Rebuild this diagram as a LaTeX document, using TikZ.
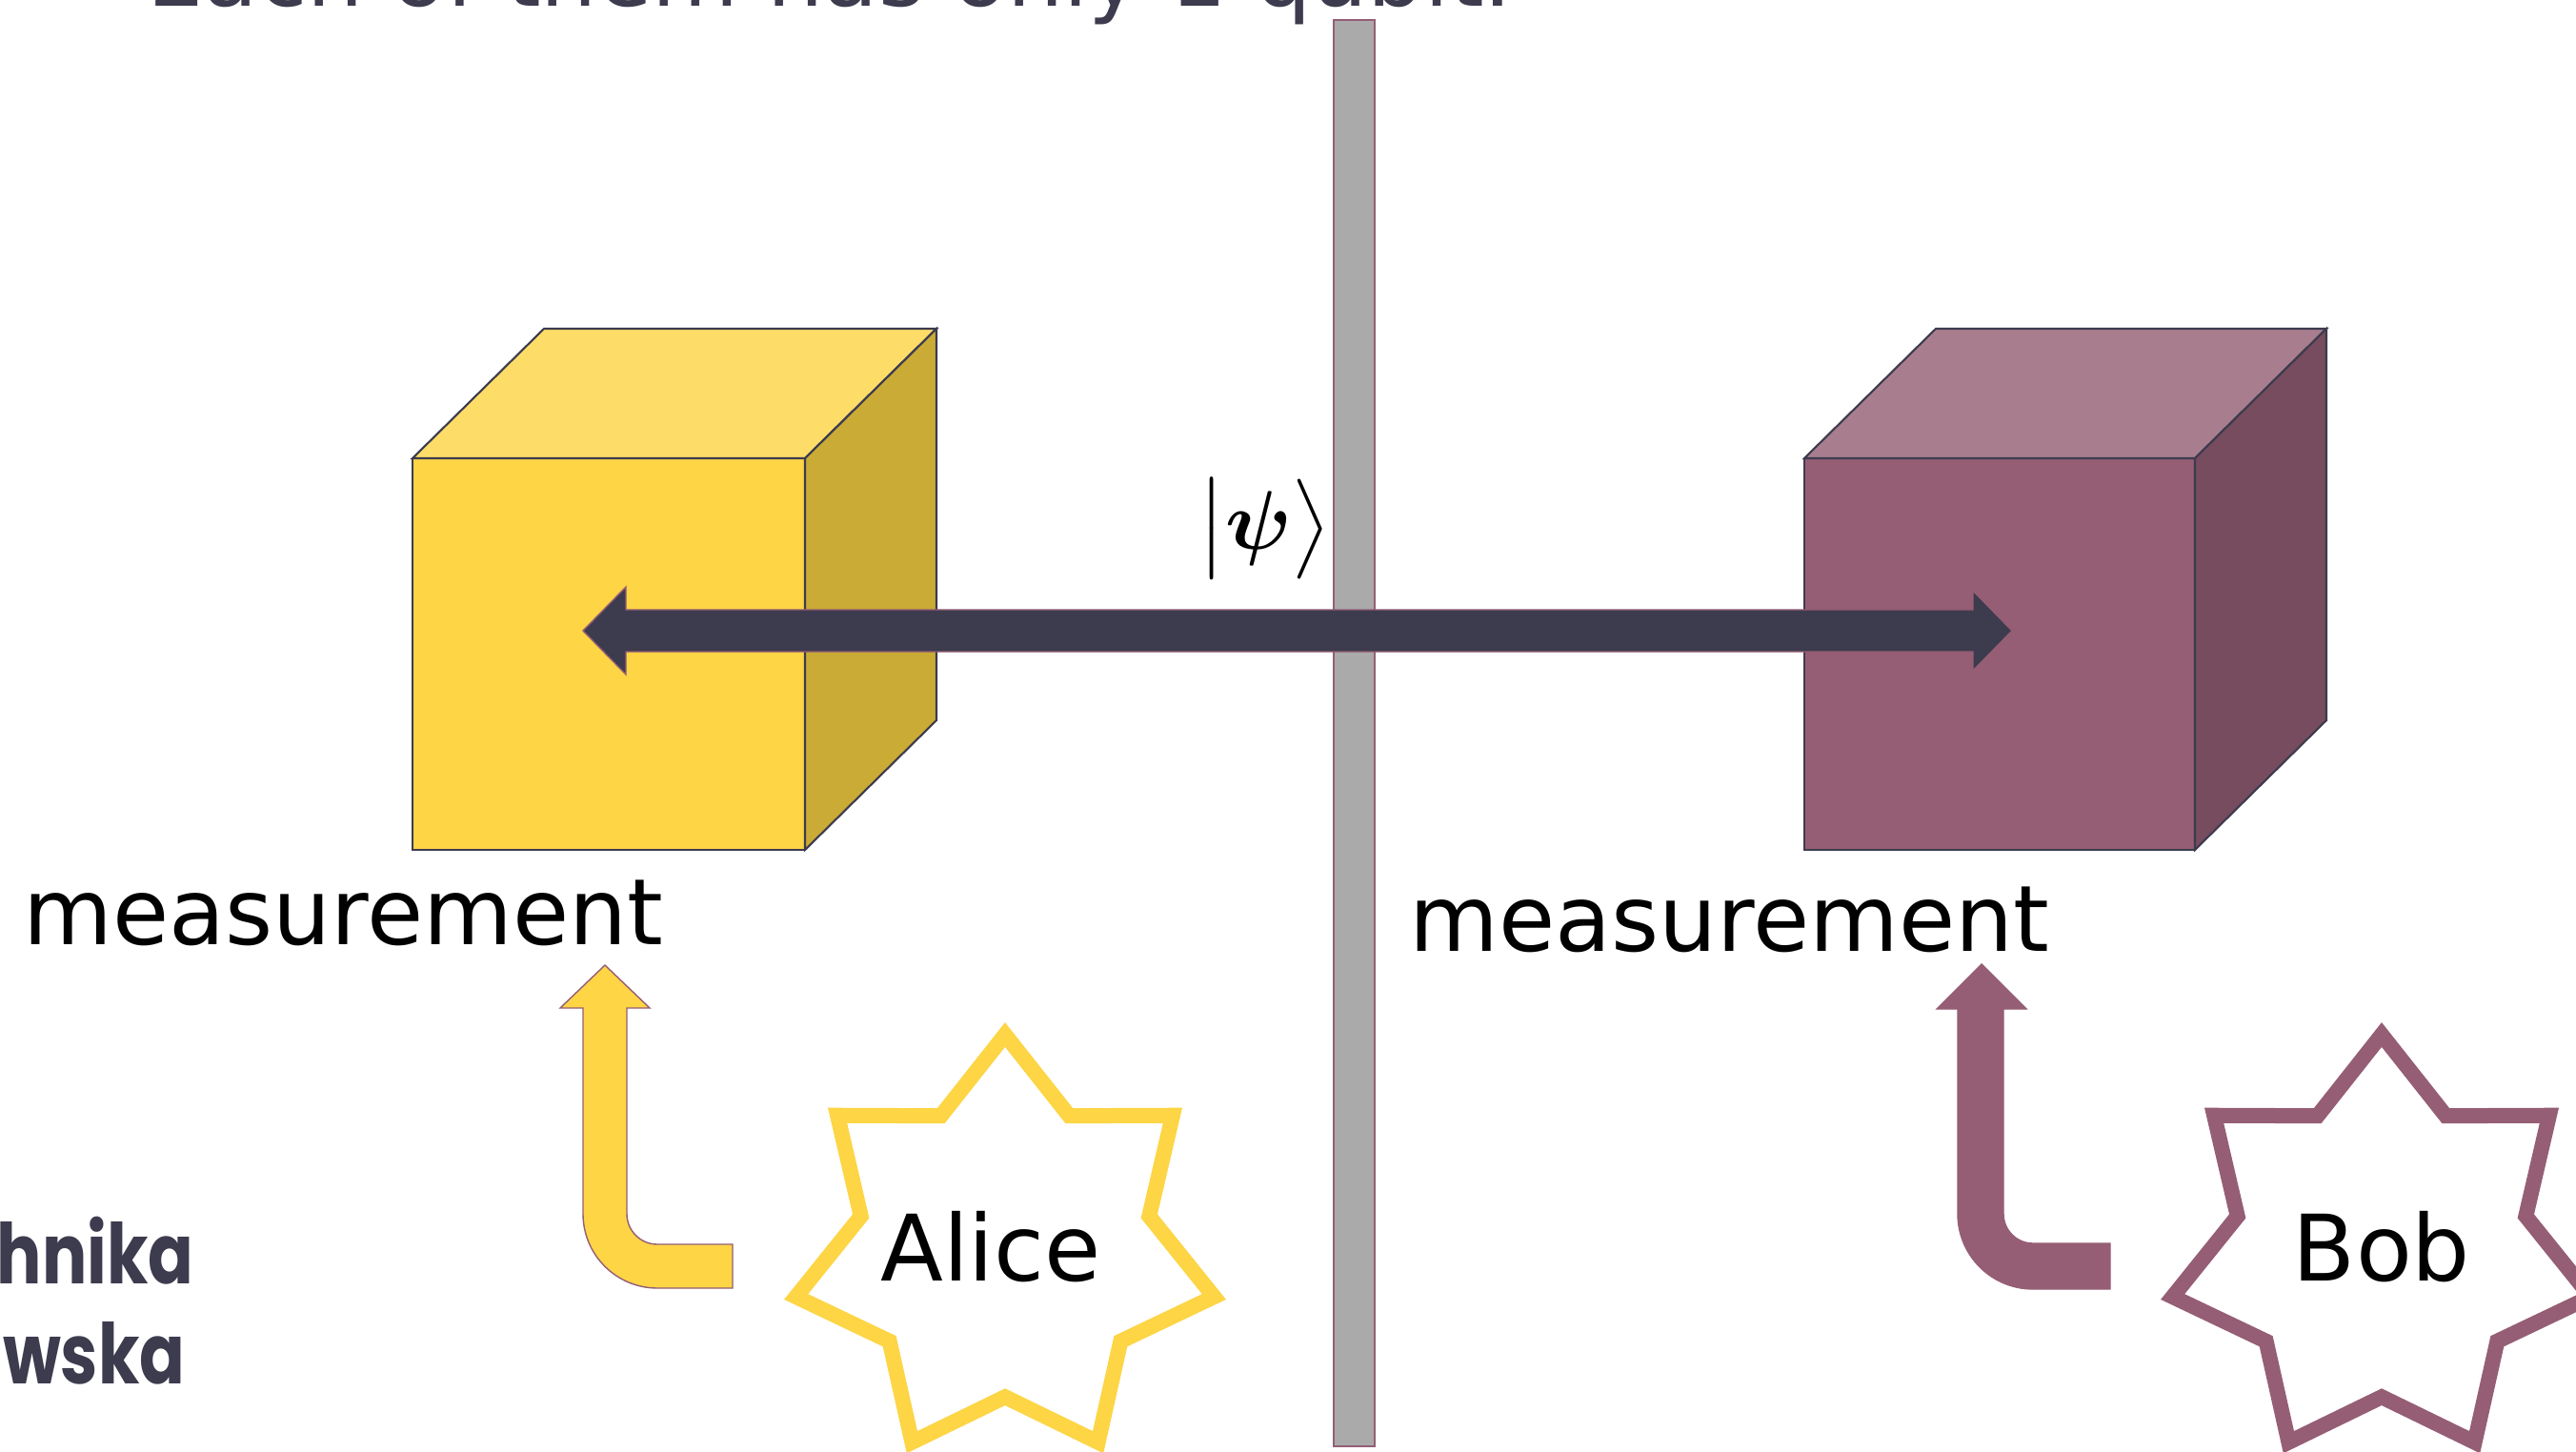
\documentclass[tikz,border=0pt]{standalone}
\usepackage{amsmath}
\usepackage{fontspec}
\setmainfont{DejaVu Sans}
\newfontfamily\pwfont{Poppins}[FakeStretch=0.8]
\usepackage{xcolor}
\usepackage{tikz}
\usetikzlibrary{calc,shapes.geometric}
\definecolor{pwdark}{RGB}{61,59,78}
\definecolor{aliceyellow}{RGB}{253,213,69}
\definecolor{alicetop}{RGB}{253,221,104}
\definecolor{aliceside}{RGB}{202,171,53}
\definecolor{bobplum}{RGB}{149,94,116}
\definecolor{bobtop}{RGB}{168,126,142}
\definecolor{bobside}{RGB}{118,76,94}
\definecolor{wallgray}{RGB}{170,170,170}
\tikzset{
  cubeedge/.style={draw=pwdark,line width=0.6pt},
  wall/.style={fill=wallgray,draw=bobplum,line width=0.6pt},
  stateedge/.style={fill=pwdark,draw=bobplum,line width=0.4pt},
  bigtext/.style={font=\fontsize{27.4}{32}\selectfont,inner sep=0pt},
  party/.style={star,star points=7,star point ratio=1.45,minimum size=4.5cm,inner sep=0pt,line width=0.16cm,font=\fontsize{27.4}{32}\selectfont}
}

\begin{document}
\begin{tikzpicture}[
  bentarrow/.style={line width=0.4pt,draw=bobplum},
  logotext/.style={font=\pwfont\bfseries\fontsize{25}{30}\selectfont,text=pwdark,inner sep=0pt,anchor=base east}
]
  \useasboundingbox (0,0) rectangle (27.04,15.23);
  \clip (0,0) rectangle (27.04,15.23);
  \fill[white] (0,0) rectangle (27.04,15.23);

  \node[font=\fontsize{26.6}{32}\selectfont,inner sep=0pt,text=pwdark,anchor=base west] (title) at (1.54,15.16)
    {Each of them has only 1 qubit.};

  % wall between the two labs
  \coordinate (w1) at (14.00,0.05);
  \coordinate (w2) at (14.43,15.02);
  \draw[wall] (w1) rectangle (w2);

  \begin{scope}
    \coordinate (a1) at (4.33,6.31);
    \coordinate (a2) at (8.45,6.31);
    \coordinate (a3) at (8.45,10.42);
    \coordinate (a4) at (4.33,10.42);
    \coordinate (a5) at (5.71,11.78);
    \coordinate (a6) at (9.83,11.78);
    \coordinate (a7) at (9.83,7.67);

    \draw[cubeedge,fill=aliceyellow] (a1)--(a2)--(a3)--(a4)--cycle;
    \draw[cubeedge,fill=alicetop] (a4)--(a5)--(a6)--(a3)--cycle;
    \draw[cubeedge,fill=aliceside] (a3)--(a6)--(a7)--(a2)--cycle;

    \node[bigtext,anchor=base west] (ameas) at (0.24,5.32) {measurement};

    \coordinate (ua) at (6.35,5.10);
    \draw[bentarrow,fill=aliceyellow] (ua) -- ++(0.47,-0.45) -- ++(-0.24,0)
      -- (6.58,2.49) arc[start angle=180,end angle=270,radius=0.32]
      -- (7.69,2.17) -- (7.69,1.71) -- (6.90,1.71)
      arc[start angle=270,end angle=180,radius=0.78]
      -- (6.12,4.65) -- (5.88,4.65) -- cycle;

    \node[party,draw=aliceyellow] (alice) at (10.55,2.12)
      {\makebox[0pt]{\raisebox{0.07cm}{Alice}\hspace{0.3cm}}};
  \end{scope}

  \begin{scope}
    \coordinate (b1) at (18.94,6.31);
    \coordinate (b2) at (23.04,6.31);
    \coordinate (b3) at (23.04,10.42);
    \coordinate (b4) at (18.94,10.42);
    \coordinate (b5) at (20.32,11.78);
    \coordinate (b6) at (24.42,11.78);
    \coordinate (b7) at (24.42,7.67);

    \draw[cubeedge,fill=bobplum] (b1)--(b2)--(b3)--(b4)--cycle;
    \draw[cubeedge,fill=bobtop] (b4)--(b5)--(b6)--(b3)--cycle;
    \draw[cubeedge,fill=bobside] (b3)--(b6)--(b7)--(b2)--cycle;

    \node[bigtext,anchor=base west] (bmeas) at (14.79,5.25) {measurement};

    \coordinate (ub) at (20.80,5.11);
    \draw[bentarrow,fill=bobplum] (ub) -- ++(0.47,-0.47) -- ++(-0.24,0)
      -- (21.03,2.49) arc[start angle=180,end angle=270,radius=0.31]
      -- (22.15,2.18) -- (22.15,1.70) -- (21.34,1.70)
      arc[start angle=270,end angle=180,radius=0.79]
      -- (20.55,4.64) -- (20.33,4.64) -- cycle;

    \node[party,draw=bobplum] (bob) at (25.00,2.12)
      {\makebox[0pt]{\raisebox{0.07cm}{Bob}}};
  \end{scope}

  % shared state
  \coordinate (ql) at (6.12,8.61);
  \coordinate (qr) at (21.12,8.61);
  \draw[stateedge] (ql) -- ++(0.45,0.46) -- ++(0,-0.24) -- (20.71,8.83)
    -- ++(0,0.20) -- (qr) -- ++(-0.41,-0.42) -- ++(0,0.20)
    -- (6.57,8.39) -- ++(0,-0.24) -- cycle;

  \node[font=\fontsize{26}{31}\selectfont,inner sep=0pt] (psi) at (13.27,9.68)
    {$\bigl|\boldsymbol{\psi}\bigr\rangle$};

  \node[logotext] (pw1) at (2.04,1.76) {Politechnika};
  \node[logotext] (pw2) at (1.95,0.71) {Warszawska};
\end{tikzpicture}
\end{document}
